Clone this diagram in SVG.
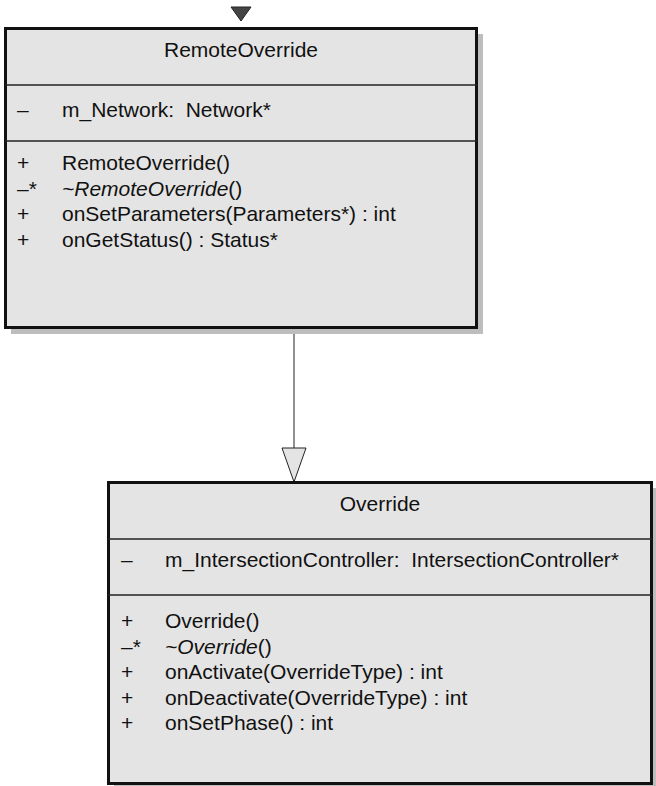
<svg xmlns="http://www.w3.org/2000/svg" width="656" height="786" viewBox="0 0 656 786">
<style>
.box{fill:#e4e4e4;stroke:#111;stroke-width:3}
.shadow{fill:#bdbdbd}
.div{stroke:#222;stroke-width:1.5}
text{font-family:"Liberation Sans",Arial,sans-serif;font-size:21px;fill:#111}
.t{text-anchor:middle}
.i{font-style:italic}
</style>
<rect width="656" height="786" fill="#fff"/>
<g id="connectors">
<polygon points="231,7 251,7 241,21" fill="#444" stroke="#222" stroke-width="1"/>
<line x1="294" y1="329" x2="294" y2="448" stroke="#222" stroke-width="1"/>
<polygon points="282,448 306,448 294,482" fill="#e4e4e4" stroke="#222" stroke-width="1"/>
</g>
<g id="RemoteOverride">
<rect class="shadow" x="11" y="34" width="472" height="300"/>
<rect class="box" x="5.5" y="28.5" width="471" height="299"/>
<line class="div" x1="5" y1="85" x2="477" y2="85"/>
<line class="div" x1="5" y1="141" x2="477" y2="141"/>
<text class="t" x="241" y="57">RemoteOverride</text>
<text x="17" y="117">–</text><text x="62" y="117" xml:space="preserve">m_Network:  Network*</text>
<text x="17" y="170">+</text><text x="62" y="170">RemoteOverride()</text>
<text x="17" y="195.5">–*</text><text x="62" y="195.5"><tspan class="i">~RemoteOverride</tspan>()</text>
<text x="17" y="221">+</text><text x="62" y="221">onSetParameters(Parameters*) : int</text>
<text x="17" y="246.5">+</text><text x="62" y="246.5">onGetStatus() : Status*</text>
</g>
<g id="Override">
<rect class="shadow" x="114" y="488" width="545" height="300"/>
<rect class="box" x="108.5" y="482.5" width="543" height="301"/>
<line class="div" x1="108" y1="539" x2="652" y2="539"/>
<line class="div" x1="108" y1="595" x2="652" y2="595"/>
<text class="t" x="380" y="511">Override</text>
<text x="121" y="567">–</text><text x="165" y="567" xml:space="preserve">m_IntersectionController:  IntersectionController*</text>
<text x="121" y="628">+</text><text x="165" y="628">Override()</text>
<text x="121" y="653.5">–*</text><text x="165" y="653.5"><tspan class="i">~Override</tspan>()</text>
<text x="121" y="679">+</text><text x="165" y="679">onActivate(OverrideType) : int</text>
<text x="121" y="704.5">+</text><text x="165" y="704.5">onDeactivate(OverrideType) : int</text>
<text x="121" y="730">+</text><text x="165" y="730">onSetPhase() : int</text>
</g>
</svg>
